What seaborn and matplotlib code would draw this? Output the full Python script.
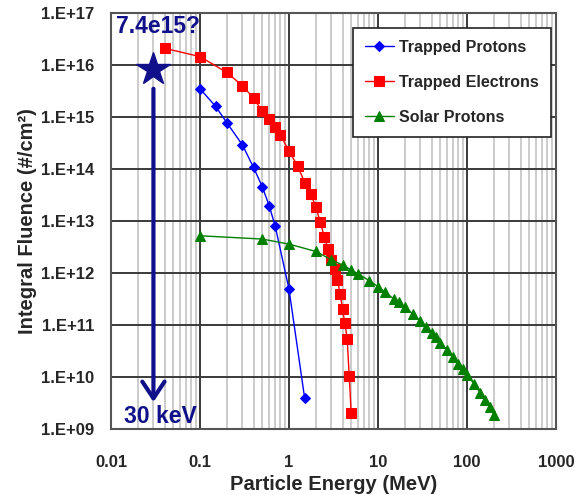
import numpy as np
import pandas as pd
import matplotlib
matplotlib.use("Agg")
import matplotlib.pyplot as plt
import seaborn as sns
from matplotlib.ticker import FixedLocator, FixedFormatter, LogLocator, NullFormatter

# ---- data ----
tp_energy = [0.1, 0.15, 0.2, 0.3, 0.4, 0.5, 0.6, 0.7, 1.0, 1.5]
tp_fluence = [3.5e15, 1.6e15, 7.8e14, 2.9e14, 1.07e14, 4.6e13, 1.95e13, 8e12, 4.9e11, 3.9e9]

te_energy = [0.04, 0.1, 0.2, 0.3, 0.4, 0.5, 0.6, 0.7, 0.8, 1.0, 1.25, 1.5, 1.75, 2.0,
             2.25, 2.5, 2.75, 3.0, 3.25, 3.5, 3.75, 4.0, 4.25, 4.5, 4.75, 5.0]
te_fluence = [2.1e16, 1.45e16, 7.2e15, 4.0e15, 2.3e15, 1.3e15, 9.1e14, 6.5e14, 4.6e14,
              2.2e14, 1.15e14, 5.5e13, 3.3e13, 1.9e13, 9.4e12, 4.9e12, 2.9e12, 1.78e12,
              1.2e12, 7.4e11, 4.0e11, 2.0e11, 1.07e11, 5.5e10, 1.05e10, 2.0e9]

sp_energy = [0.1, 0.5, 1, 2, 3, 4, 5, 6, 8, 10, 12, 15, 17, 20, 25, 30, 35, 40, 45, 50,
             60, 70, 80, 90, 100, 120, 140, 160, 180, 200]
sp_fluence = [5.2e12, 4.5e12, 3.6e12, 2.6e12, 1.8e12, 1.42e12, 1.15e12, 9.6e11, 7.1e11,
              5.5e11, 4.3e11, 3.2e11, 2.8e11, 2.2e11, 1.6e11, 1.18e11, 9.1e10, 7.1e10,
              5.8e10, 4.6e10, 3.3e10, 2.4e10, 1.78e10, 1.4e10, 1.1e10, 7.4e9, 5.0e9,
              3.6e9, 2.7e9, 1.9e9]

series_names = ["Trapped Protons", "Trapped Electrons", "Solar Protons"]

star_energy = 0.03
star_fluence = 8.3e15
star_label = "7.4e15?"
arrow_top = 3.5e15
arrow_bottom = 3.3e9
kev_label = "30 keV"

x_ticks = [0.01, 0.1, 1, 10, 100, 1000]
x_ticklabels = ["0.01", "0.1", "1", "10", "100", "1000"]
y_ticks = [1e9, 1e10, 1e11, 1e12, 1e13, 1e14, 1e15, 1e16, 1e17]
y_ticklabels = ["1.E+09", "1.E+10", "1.E+11", "1.E+12", "1.E+13", "1.E+14",
                "1.E+15", "1.E+16", "1.E+17"]

# ---- style ----
sns.set_style("white")
plt.rcParams["font.family"] = ["Liberation Sans", "DejaVu Sans"]
plt.rcParams["font.weight"] = "bold"

navy = "#10108a"

fig = plt.figure(figsize=(5.81, 4.95), dpi=100)
ax = fig.add_axes([0.191, 0.1333, 0.766, 0.8404])
ax.set_xscale("log")
ax.set_yscale("log")
ax.set_xlim(0.01, 1000)
ax.set_ylim(1e9, 1e17)

# grid
ax.xaxis.set_minor_locator(LogLocator(base=10, subs=np.arange(2, 10)))
ax.xaxis.set_minor_formatter(NullFormatter())
ax.yaxis.set_minor_locator(FixedLocator([]))
ax.grid(which="minor", axis="x", color="#cccccc", linewidth=1.4)
ax.grid(which="major", axis="both", color="#3a3a3a", linewidth=1.4)
ax.set_axisbelow(True)

df_tp = pd.DataFrame({"E": tp_energy, "F": tp_fluence})
df_te = pd.DataFrame({"E": te_energy, "F": te_fluence})
df_sp = pd.DataFrame({"E": sp_energy, "F": sp_fluence})

sns.lineplot(data=df_tp, x="E", y="F", ax=ax, color="#0000ff", marker="D", markersize=5.5,
             markeredgecolor="#0000ff", linewidth=1.0, label=series_names[0])
sns.lineplot(data=df_te, x="E", y="F", ax=ax, color="#ff0000", marker="s", markersize=7.5,
             markeredgecolor="#ff0000", linewidth=1.0, label=series_names[1])
sns.lineplot(data=df_sp, x="E", y="F", ax=ax, color="#008000", marker="^", markersize=7.5,
             markeredgecolor="#008000", linewidth=1.0, label=series_names[2])

# star & arrow annotations
ax.annotate("", xy=(star_energy, arrow_bottom), xytext=(star_energy, arrow_top),
            arrowprops=dict(arrowstyle="->,head_length=0.6,head_width=0.4", lw=3,
                            color=navy, shrinkA=0, shrinkB=0, mutation_scale=20))
ax.plot([star_energy], [star_fluence], marker="*", markersize=25, color=navy,
        linestyle="none", zorder=5)
ax.text(0.0335, 5.4e16, star_label, color=navy, fontsize=16.5, fontweight="bold",
        ha="center", va="center")
ax.text(0.036, 1.75e9, kev_label, color=navy, fontsize=16.5, fontweight="bold",
        ha="center", va="center")

# ticks
ax.xaxis.set_major_locator(FixedLocator(x_ticks))
ax.xaxis.set_major_formatter(FixedFormatter(x_ticklabels))
ax.yaxis.set_major_locator(FixedLocator(y_ticks))
ax.yaxis.set_major_formatter(FixedFormatter(y_ticklabels))
ax.tick_params(which="both", length=0)
ax.tick_params(axis="x", labelsize=12, pad=19)
ax.tick_params(axis="y", labelsize=12, pad=12)
for lab in ax.get_xticklabels() + ax.get_yticklabels():
    lab.set_fontweight("bold")

ax.set_xlabel("Particle Energy (MeV)", fontsize=14.5, fontweight="bold", labelpad=3)
ax.set_ylabel("Integral Fluence (#/cm²)", fontsize=14.5, fontweight="bold", labelpad=3)

for sp in ax.spines.values():
    sp.set_color("#555555")
    sp.set_linewidth(1.5)

leg = ax.legend(loc="upper right", bbox_to_anchor=(0.989, 0.964), borderaxespad=0,
                frameon=True, fancybox=False, edgecolor="#222222", framealpha=1,
                fontsize=11.5, handlelength=1.8, labelspacing=1.25, borderpad=0.75,
                handletextpad=0.35)
leg.get_frame().set_linewidth(1.2)
for t in leg.get_texts():
    t.set_fontweight("bold")

fig.savefig("out.png", dpi=100)
